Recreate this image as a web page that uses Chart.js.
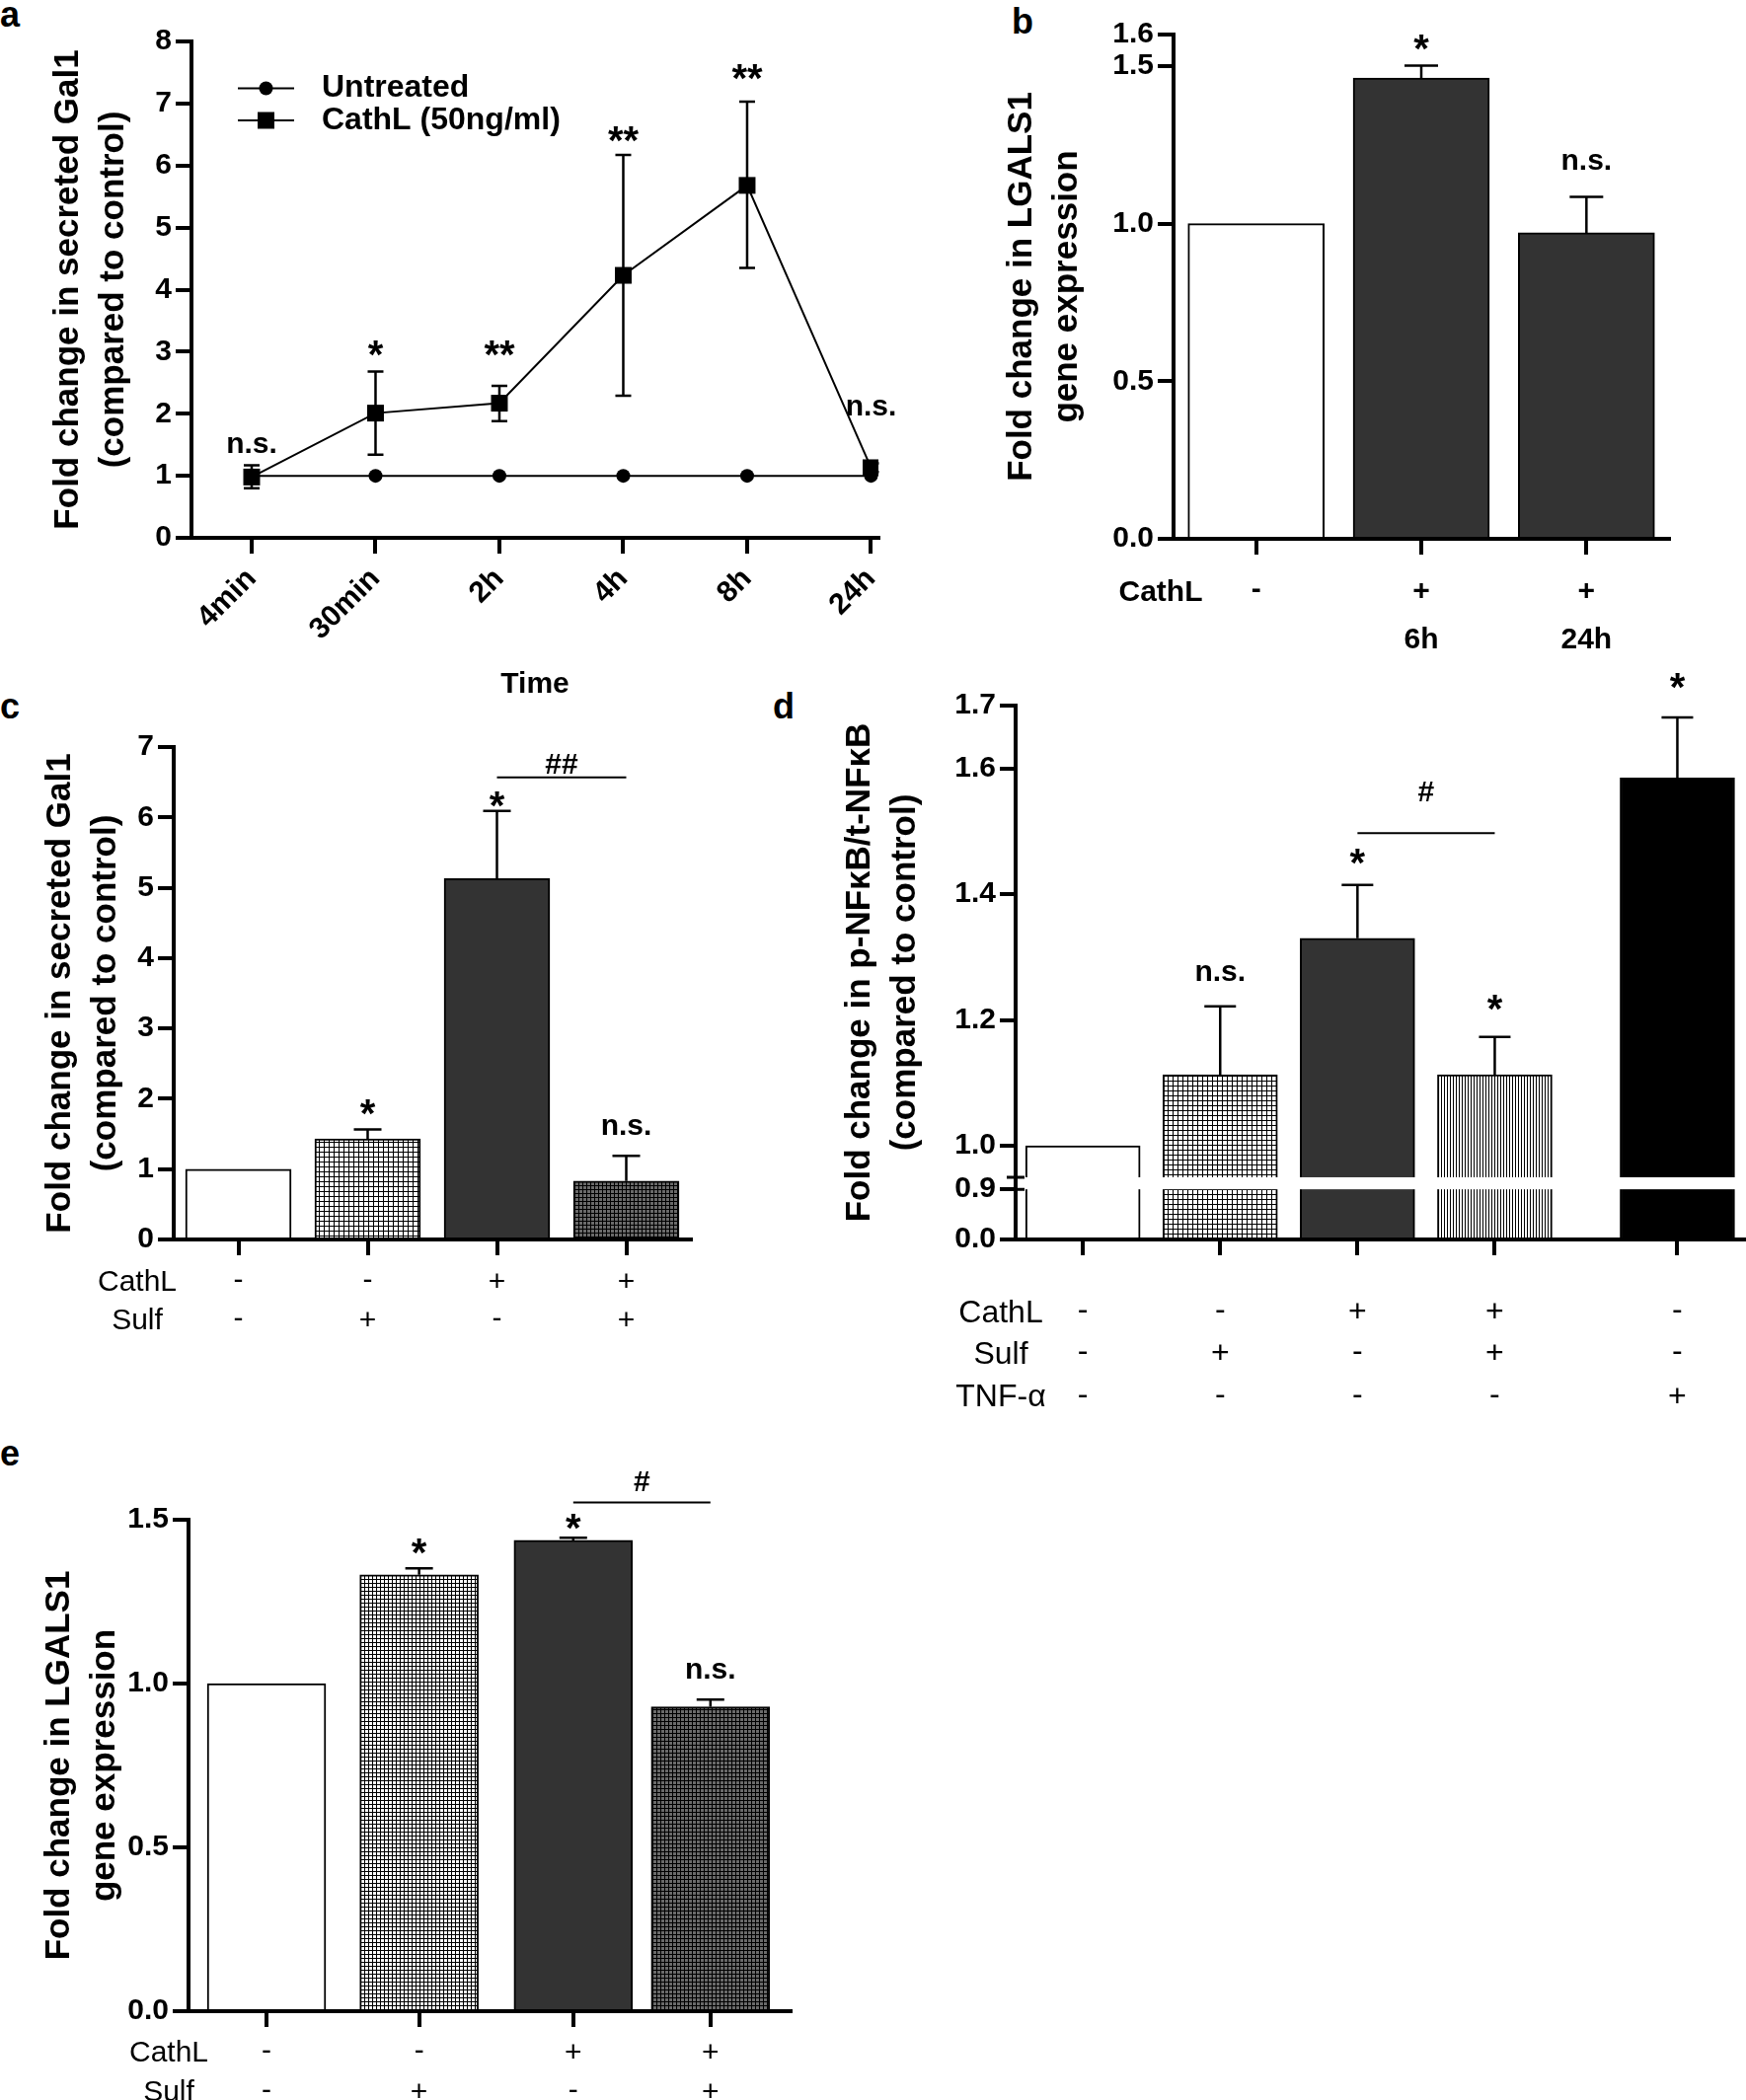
<!DOCTYPE html>
<html>
<head>
<meta charset="utf-8">
<script src="https://cdn.jsdelivr.net/npm/chart.js@4.4.1/dist/chart.umd.min.js"></script>
<style>
  html, body { margin: 0; padding: 0; background: #fff; }
  body { width: 1769px; height: 2128px; position: relative; overflow: hidden; font-family: "Liberation Sans", Arial, sans-serif; }
  canvas { position: absolute; }
  .tag { position: absolute; font: bold 36px/36px "Liberation Sans", Arial, sans-serif; color: #000; }
</style>
</head>
<body>
<div class="tag" style="left:0px;top:-3px">a</div>
<div class="tag" style="left:1025px;top:4px">b</div>
<div class="tag" style="left:0px;top:698px">c</div>
<div class="tag" style="left:783px;top:698px">d</div>
<div class="tag" style="left:0px;top:1455px">e</div>

<canvas id="chartA" width="884" height="690" style="left:46px;top:22px"></canvas>
<canvas id="chartB" width="699" height="661" style="left:1012px;top:15px"></canvas>
<canvas id="chartC" width="682" height="619" style="left:38px;top:737px"></canvas>
<canvas id="chartD" width="921" height="776" style="left:848px;top:665px"></canvas>
<canvas id="chartE" width="784" height="648" style="left:37px;top:1480px"></canvas>

<script>
// ---------- data ----------
// a: secreted Gal1 over time
const timeLabels = ['4min', '30min', '2h', '4h', '8h', '24h'];
const untreated = [1, 1, 1, 1, 1, 1];
const cathL = [0.98, 2.01, 2.17, 4.23, 5.68, 1.13];
const cathLHi = [1.17, 2.68, 2.45, 6.17, 7.03, 1.2];
const cathLLo = [0.80, 1.34, 1.88, 2.29, 4.35, 1.06];
const aSig = ['n.s.', '*', '**', '**', '**', 'n.s.'];
const aSigAt = [1.5, 3.05, 3.05, 6.5, 7.5, 2.1];
const aTicks = [0, 1, 2, 3, 4, 5, 6, 7, 8];

// b: LGALS1 expression
const bVals = [1.0, 1.462, 0.971];
const bErr = [null, 1.501, 1.085];
const bSig = ['', '*', 'n.s.'];
const bSigAt = [null, 1.575, 1.196];
const bCathL = ['-', '+', '+'];
const bTime = ['', '6h', '24h'];
const bTicks = [0, 0.5, 1.0, 1.5, 1.6];

// c: secreted Gal1 with Sulf
const cVals = [1.0, 1.43, 5.13, 0.83];
const cErr = [null, 1.565, 6.09, 1.19];
const cSig = ['', '*', '*', 'n.s.'];
const cSigAt = [null, 1.88, 6.25, 1.6];
const cBracket = { from: 2, to: 3, at: 6.57, text: '##', textAt: 6.76 };
const cCathL = ['-', '-', '+', '+'];
const cSulf = ['-', '+', '-', '+'];
const cTicks = [0, 1, 2, 3, 4, 5, 6, 7];

// d: p-NFkB / t-NFkB
const dVals = [1.0, 1.113, 1.33, 1.113, 1.585];
const dErr = [null, 1.222, 1.415, 1.173, 1.681];
const dSig = ['', 'n.s.', '*', '*', '*'];
const dSigAt = [null, 1.274, 1.46, 1.227, 1.74];
const dBracket = { from: 2, to: 3, at: 1.497, text: '#', textAt: 1.564 };
const dCathL = ['-', '-', '+', '+', '-'];
const dSulf = ['-', '+', '-', '+', '-'];
const dTnf = ['-', '-', '-', '-', '+'];
const dTicks = [0, 0.9, 1.0, 1.2, 1.4, 1.6, 1.7];

// e: LGALS1 expression with Sulf
const eVals = [1.0, 1.332, 1.437, 0.929];
const eErr = [null, 1.352, 1.445, 0.951];
const eSig = ['', '*', '*', 'n.s.'];
const eSigAt = [null, 1.418, 1.495, 1.038];
const eBracket = { from: 2, to: 3, at: 1.553, text: '#', textAt: 1.616 };
const eCathL = ['-', '-', '+', '+'];
const eSulf = ['-', '+', '-', '+'];
const eTicks = [0, 0.5, 1.0, 1.5];

// ---------- layout ----------
const dSlots = [0, 1, 2, 3, 4.33];
const eSlots = [0, 0.99, 1.99, 2.88];
const dBreak = { lo: 0.9, hi: 0.95, loFrac: 0.094, hiFrac: 0.1165 };

const FONT = '"Liberation Sans", Arial, sans-serif';
const tickFont = { family: FONT, size: 30, weight: 'bold' };
const titleFont = { family: FONT, size: 35, weight: 'bold', lineHeight: '46px' };

Chart.defaults.color = '#000';
Chart.defaults.font.family = FONT;

function fixAxis(size) {
  return function (scale) {
    if (scale.isHorizontal()) scale.height = size; else scale.width = size;
    scale.paddingLeft = scale.paddingRight = scale.paddingTop = scale.paddingBottom = 0;
  };
}
function setTicks(list) {
  return function (scale) { scale.ticks = list.map(v => ({ value: v })); };
}
const axisGrid = { drawOnChartArea: false, color: '#000', lineWidth: 4, tickLength: 16, offset: false };
const axisBorder = { display: true, color: '#000', width: 4 };

function makePattern(bg, fg, step, vertOnly) {
  const c = document.createElement('canvas');
  c.width = c.height = step;
  const g = c.getContext('2d');
  g.fillStyle = bg; g.fillRect(0, 0, step, step);
  g.fillStyle = fg;
  g.fillRect(0, 0, 1, step);
  if (!vertOnly) g.fillRect(0, 0, step, 1);
  return g.createPattern(c, 'repeat');
}
const gridLight = makePattern('#fff', '#000', 5);
const gridLightFine = makePattern('#fff', '#000', 4);
const gridDark = makePattern('#6a6a6a', '#000', 4);
const vertLines = makePattern('#fff', '#000', 3, true);

function drawCentered(ctx, text, x, y, font) {
  ctx.font = font;
  ctx.textAlign = 'center';
  ctx.textBaseline = 'alphabetic';
  const m = ctx.measureText(text);
  ctx.fillText(text, x, y + (m.actualBoundingBoxAscent - m.actualBoundingBoxDescent) / 2);
}
function sigFont(t) {
  if (t.includes('*')) return 'bold 40px ' + FONT;
  return 'bold 30px ' + FONT;
}

// error bars
const errorBars = {
  id: 'errorBars',
  draw(chart, opts) {
    const ctx = chart.ctx, y = chart.scales.y;
    chart.data.datasets.forEach((ds, di) => {
      if (!ds.errHi) return;
      chart.getDatasetMeta(di).data.forEach((el, i) => {
        const hi = ds.errHi[i];
        if (hi == null) return;
        const top = y.getPixelForValue(hi);
        const lo = ds.errLo ? y.getPixelForValue(ds.errLo[i]) : el.y;
        const cap = opts.cap || 10;
        ctx.save();
        ctx.strokeStyle = '#000';
        ctx.lineWidth = 2.5;
        ctx.beginPath();
        ctx.moveTo(el.x, lo); ctx.lineTo(el.x, top);
        ctx.moveTo(el.x - cap, top); ctx.lineTo(el.x + cap, top);
        if (ds.errLo) { ctx.moveTo(el.x - cap, lo); ctx.lineTo(el.x + cap, lo); }
        ctx.stroke();
        ctx.restore();
      });
    });
  },
  beforeDatasetsDraw(chart, args, opts) { if (opts.under) this.draw(chart, opts); },
  afterDatasetsDraw(chart, args, opts) { if (!opts.under) this.draw(chart, opts); }
};

// significance marks and brackets
const sigLabels = {
  id: 'sigLabels',
  afterDatasetsDraw(chart, args, opts) {
    const ctx = chart.ctx, y = chart.scales.y;
    const pts = chart.getDatasetMeta(opts.ds || 0).data;
    ctx.save();
    ctx.fillStyle = '#000';
    (opts.text || []).forEach((t, i) => {
      if (!t) return;
      drawCentered(ctx, t, pts[i].x, y.getPixelForValue(opts.at[i]), sigFont(t));
    });
    const br = opts.bracket;
    if (br) {
      const yy = y.getPixelForValue(br.at);
      ctx.strokeStyle = '#000';
      ctx.lineWidth = 2;
      ctx.beginPath();
      ctx.moveTo(pts[br.from].x, yy); ctx.lineTo(pts[br.to].x, yy);
      ctx.stroke();
      drawCentered(ctx, br.text, (pts[br.from].x + pts[br.to].x) / 2, y.getPixelForValue(br.textAt), sigFont(br.text));
    }
    ctx.restore();
  }
};

// treatment rows under the x axis
const treatRows = {
  id: 'treatRows',
  afterDraw(chart, args, opts) {
    if (!opts.rows) return;
    const ctx = chart.ctx, area = chart.chartArea;
    const pts = chart.getDatasetMeta(0).data;
    ctx.save();
    ctx.fillStyle = '#000';
    opts.rows.forEach((row, r) => {
      const yy = area.bottom + opts.offsets[r];
      if (row.name) drawCentered(ctx, row.name, area.left + opts.nameX, yy, opts.font);
      row.marks.forEach((m, i) => { if (m) drawCentered(ctx, m, pts[i].x, yy, opts.font); });
    });
    ctx.restore();
  }
};

// legend with line + marker (panel a)
const lineLegend = {
  id: 'lineLegend',
  afterDraw(chart, args, opts) {
    if (!opts.show) return;
    const ctx = chart.ctx, area = chart.chartArea;
    ctx.save();
    chart.data.datasets.forEach((ds, i) => {
      const yy = area.top + opts.rowsY[i];
      const x1 = area.left + opts.x1, x2 = area.left + opts.x2, xm = (x1 + x2) / 2;
      ctx.strokeStyle = '#000'; ctx.fillStyle = '#000'; ctx.lineWidth = 2;
      ctx.beginPath(); ctx.moveTo(x1, yy); ctx.lineTo(x2, yy); ctx.stroke();
      if (ds.pointStyle === 'rect') {
        const s = ds.pointRadius * Math.SQRT1_2;
        ctx.fillRect(xm - s, yy - s, 2 * s, 2 * s);
      } else {
        ctx.beginPath(); ctx.arc(xm, yy, ds.pointRadius, 0, Math.PI * 2); ctx.fill();
      }
      ctx.font = 'bold 32px ' + FONT;
      ctx.textAlign = 'left';
      ctx.textBaseline = 'middle';
      ctx.fillText(ds.label, area.left + opts.textX, yy);
    });
    ctx.restore();
  }
};

// broken y axis (panel d)
class BrokenScale extends Chart.LinearScale {
  valueToDecimal(v) {
    const k = dBreak, top = this.max;
    if (v <= k.lo) return v / k.lo * k.loFrac;
    if (v >= k.hi) return k.hiFrac + (v - k.hi) / (top - k.hi) * (1 - k.hiFrac);
    return k.loFrac + (v - k.lo) / (k.hi - k.lo) * (k.hiFrac - k.loFrac);
  }
  getPixelForValue(v) {
    return v === null ? NaN : this.getPixelForDecimal(this.valueToDecimal(v));
  }
  getValueForPixel(p) {
    const d = this.getDecimalForPixel(p), k = dBreak;
    if (d <= k.loFrac) return d / k.loFrac * k.lo;
    if (d >= k.hiFrac) return k.hi + (d - k.hiFrac) / (1 - k.hiFrac) * (this.max - k.hi);
    return k.lo + (d - k.loFrac) / (k.hiFrac - k.loFrac) * (k.hi - k.lo);
  }
}
BrokenScale.id = 'broken';
BrokenScale.defaults = Chart.LinearScale.defaults;
Chart.register(BrokenScale);

const axisGap = {
  id: 'axisGap',
  afterDatasetsDraw(chart, args, opts) {
    if (!opts.show) return;
    const ctx = chart.ctx, area = chart.chartArea, y = chart.scales.y;
    const yLo = y.getPixelForDecimal(dBreak.loFrac);
    const yHi = y.getPixelForDecimal(dBreak.hiFrac);
    ctx.save();
    ctx.fillStyle = '#fff';
    ctx.fillRect(area.left + 4, yHi, area.right - area.left, yLo - yHi);
    ctx.strokeStyle = '#000';
    ctx.lineWidth = 3;
    ctx.beginPath();
    ctx.moveTo(area.left - 9, yHi); ctx.lineTo(area.left + 9, yHi);
    ctx.moveTo(area.left - 9, yLo); ctx.lineTo(area.left + 9, yLo);
    ctx.stroke();
    ctx.restore();
  }
};

const common = { responsive: false, animation: false, devicePixelRatio: 1, events: [] };

function yAxis(min, max, ticks, title, width, fmt) {
  return {
    min: min, max: max,
    afterBuildTicks: setTicks(ticks),
    afterFit: fixAxis(width),
    ticks: { font: tickFont, color: '#000', padding: 4, autoSkip: false, callback: fmt },
    grid: axisGrid, border: axisBorder,
    title: { display: true, text: title, font: titleFont, color: '#000', padding: 0 }
  };
}
function barX(height, extra) {
  return Object.assign({
    afterFit: fixAxis(height),
    ticks: { display: false },
    grid: axisGrid, border: axisBorder
  }, extra || {});
}
const fmt1 = v => v.toFixed(1);
const fmt0 = v => String(v);

// ---------- a ----------
new Chart(document.getElementById('chartA'), {
  type: 'line',
  data: {
    datasets: [
      { label: 'Untreated', data: untreated.map((v, i) => ({ x: i, y: v })),
        pointStyle: 'circle', pointRadius: 7, borderColor: '#000', backgroundColor: '#000', borderWidth: 2, pointBorderWidth: 0 },
      { label: 'CathL (50ng/ml)', data: cathL.map((v, i) => ({ x: i, y: v })), errHi: cathLHi, errLo: cathLLo,
        pointStyle: 'rect', pointRadius: 12, borderColor: '#000', backgroundColor: '#000', borderWidth: 2, pointBorderWidth: 0 }
    ]
  },
  options: Object.assign({}, common, {
    layout: { padding: { top: 20, right: 40, left: 0, bottom: 0 } },
    plugins: {
      legend: { display: false }, tooltip: { enabled: false },
      errorBars: { under: true, cap: 8 },
      sigLabels: { ds: 1, text: aSig, at: aSigAt },
      lineLegend: { show: true, x1: 47, x2: 104, rowsY: [47.5, 80], textX: 132 }
    },
    scales: {
      x: {
        type: 'linear', min: -0.486, max: 5.06,
        afterBuildTicks: setTicks(timeLabels.map((t, i) => i)),
        afterFit: fixAxis(167),
        ticks: { callback: v => timeLabels[v], minRotation: 45, maxRotation: 45, autoSkip: false,
                 font: { family: FONT, size: 30, weight: 'bold' }, color: '#000', padding: 8 },
        grid: axisGrid, border: axisBorder,
        title: { display: true, text: 'Time', font: { family: FONT, size: 30, weight: 'bold' }, color: '#000', padding: 0 }
      },
      y: yAxis(0, 8, aTicks, ['Fold change in secreted Gal1', '(compared to control)'], 148, fmt0)
    }
  }),
  plugins: [errorBars, sigLabels, lineLegend]
});

// ---------- b ----------
new Chart(document.getElementById('chartB'), {
  type: 'bar',
  data: {
    labels: bCathL.map((c, i) => i),
    datasets: [{ data: bVals, errHi: bErr, backgroundColor: ['#fff', '#333', '#333'],
      borderColor: '#000', borderWidth: 2, barThickness: 138 }]
  },
  options: Object.assign({}, common, {
    layout: { padding: { top: 20, right: 20, left: 0, bottom: 0 } },
    plugins: {
      legend: { display: false }, tooltip: { enabled: false },
      errorBars: { cap: 17 },
      sigLabels: { text: bSig, at: bSigAt },
      treatRows: { rows: [{ name: 'CathL', marks: bCathL }, { name: '', marks: bTime }],
                   offsets: [52, 100], nameX: -13, font: 'bold 30px ' + FONT }
    },
    scales: {
      x: barX(130),
      y: yAxis(0, 1.6, bTicks, ['Fold change in LGALS1', 'gene expression'], 177, fmt1)
    }
  }),
  plugins: [errorBars, sigLabels, treatRows]
});

// ---------- c ----------
new Chart(document.getElementById('chartC'), {
  type: 'bar',
  data: {
    labels: cCathL.map((c, i) => i),
    datasets: [{ data: cVals, errHi: cErr, backgroundColor: ['#fff', gridLight, '#333', gridDark],
      borderColor: '#000', borderWidth: 2, barThickness: 107 }]
  },
  options: Object.assign({}, common, {
    layout: { padding: { top: 20, right: 20, left: 0, bottom: 0 } },
    plugins: {
      legend: { display: false }, tooltip: { enabled: false },
      errorBars: { cap: 14 },
      sigLabels: { text: cSig, at: cSigAt, bracket: cBracket },
      treatRows: { rows: [{ name: 'CathL', marks: cCathL }, { name: 'Sulf', marks: cSulf }],
                   offsets: [41, 80], nameX: -37, font: '30px ' + FONT }
    },
    scales: {
      x: barX(100),
      y: yAxis(0, 7, cTicks, ['Fold change in secreted Gal1', '(compared to control)'], 138, fmt0)
    }
  }),
  plugins: [errorBars, sigLabels, treatRows]
});

// ---------- d ----------
new Chart(document.getElementById('chartD'), {
  type: 'bar',
  data: {
    datasets: [{ data: dVals.map((v, i) => ({ x: dSlots[i], y: v })), errHi: dErr,
      backgroundColor: ['#fff', gridLight, '#333', vertLines, '#000'],
      borderColor: '#000', borderWidth: 2, barThickness: 116 }]
  },
  options: Object.assign({}, common, {
    layout: { padding: { top: 50, right: 0, left: 0, bottom: 0 } },
    plugins: {
      legend: { display: false }, tooltip: { enabled: false },
      errorBars: { cap: 16 },
      sigLabels: { text: dSig, at: dSigAt, bracket: dBracket },
      axisGap: { show: true },
      treatRows: { rows: [{ name: 'CathL', marks: dCathL }, { name: 'Sulf', marks: dSulf }, { name: 'TNF-α', marks: dTnf }],
                   offsets: [72, 114, 158], nameX: -15, font: '32px ' + FONT }
    },
    scales: {
      x: barX(185, { type: 'linear', min: -0.49, max: 4.83, offset: false, afterBuildTicks: setTicks(dSlots) }),
      y: Object.assign(yAxis(0, 1.7, dTicks, ['Fold change in p-NFκB/t-NFκB', '(compared to control)'], 181, fmt1), { type: 'broken' })
    }
  }),
  plugins: [errorBars, axisGap, sigLabels, treatRows]
});

// ---------- e ----------
new Chart(document.getElementById('chartE'), {
  type: 'bar',
  data: {
    datasets: [{ data: eVals.map((v, i) => ({ x: eSlots[i], y: v })), errHi: eErr,
      backgroundColor: ['#fff', gridLightFine, '#333', gridDark],
      borderColor: '#000', borderWidth: 2, barThickness: 120 }]
  },
  options: Object.assign({}, common, {
    layout: { padding: { top: 60, right: 20, left: 0, bottom: 0 } },
    plugins: {
      legend: { display: false }, tooltip: { enabled: false },
      errorBars: { cap: 14 },
      sigLabels: { text: eSig, at: eSigAt, bracket: eBracket },
      treatRows: { rows: [{ name: 'CathL', marks: eCathL }, { name: 'Sulf', marks: eSulf }],
                   offsets: [40, 80], nameX: -20, font: '30px ' + FONT }
    },
    scales: {
      x: barX(90, { type: 'linear', min: -0.506, max: 3.40, offset: false, afterBuildTicks: setTicks(eSlots) }),
      y: yAxis(0, 1.5, eTicks, ['Fold change in LGALS1', 'gene expression'], 154, fmt1)
    }
  }),
  plugins: [errorBars, sigLabels, treatRows]
});
</script>
</body>
</html>
